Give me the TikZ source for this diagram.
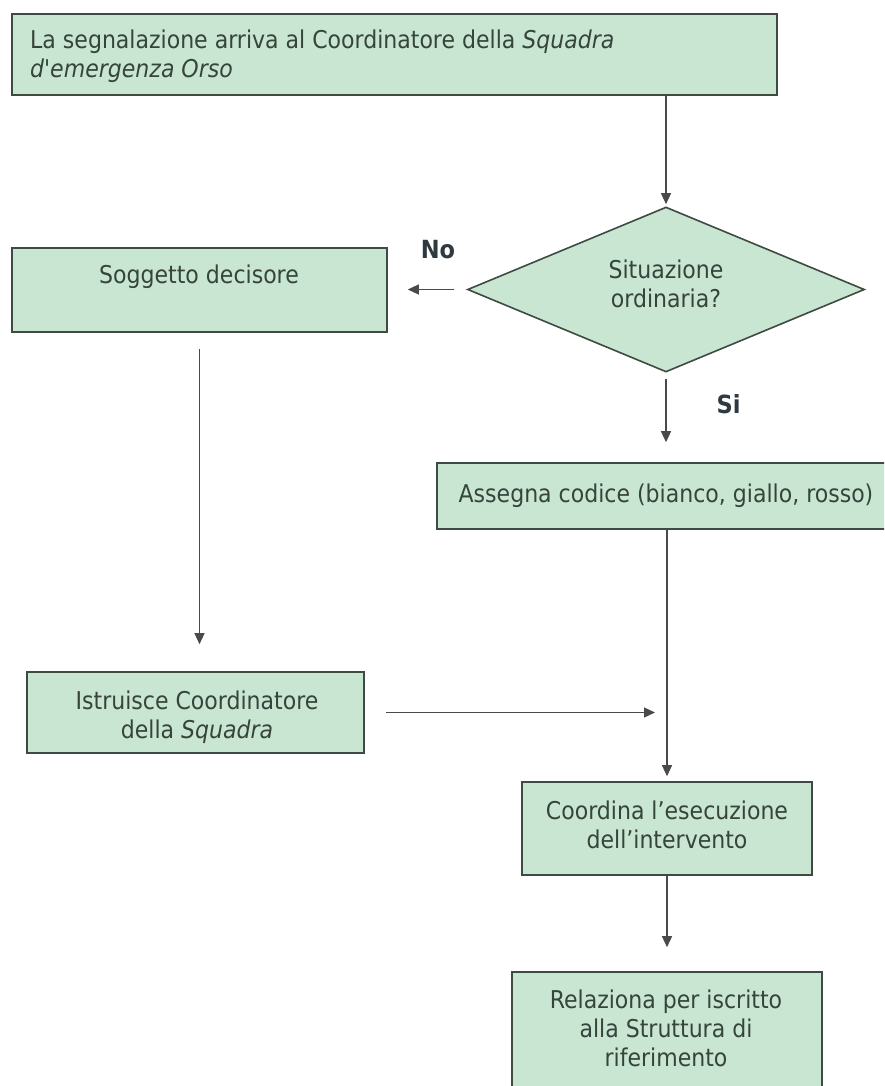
\documentclass[tikz,border=0pt]{standalone}
\usepackage{fontspec}
\setmainfont{DejaVu Sans Condensed}[Ligatures=TeXOff]
\usetikzlibrary{shapes.geometric,arrows.meta}
\definecolor{boxfill}{HTML}{C8E6D2}
\definecolor{boxline}{HTML}{3E4A42}
\definecolor{txtcol}{HTML}{36443B}
\definecolor{arrcol}{HTML}{4A4A4A}
\definecolor{labcol}{HTML}{2E3A40}
\begin{document}
\begin{tikzpicture}[x=1pt,y=-1pt,
  box/.style={draw=boxline, fill=boxfill, line width=1.6pt, inner sep=0pt, rectangle},
  txt/.style={text=txtcol, inner sep=0pt, font=\fontsize{24.5}{29}\selectfont},
  lab/.style={text=labcol, inner sep=0pt, font=\fontsize{25}{29}\selectfont\bfseries},
  arr/.style={draw=arrcol, line width=1.3pt, -{Triangle[length=11pt,width=10pt]}}]
\clip (0,0) rectangle (884,1086);
\fill[white] (0,0) rectangle (884,1086);
% boxes
\node[box, minimum width=765pt, minimum height=81pt] (top) at (394.5,54.5) {};
\node[diamond, draw=boxline, fill=boxfill, line width=1.6pt, inner sep=0pt,
      minimum width=397pt, minimum height=165pt] (dia) at (666,289.5) {};
\node[box, minimum width=375pt, minimum height=84pt] (sog) at (199.5,290) {};
\node[box, minimum width=453pt, minimum height=66pt] (ass) at (663.5,496) {};
\node[box, minimum width=337pt, minimum height=81pt] (ist) at (195.5,712.5) {};
\node[box, minimum width=290pt, minimum height=93pt] (coo) at (667,828.5) {};
\node[box, minimum width=310pt, minimum height=123pt] (rel) at (667,1033.5) {};
% texts
\node[txt, anchor=west, align=left] (toptxt) at (30,56)
  {La segnalazione arriva al Coordinatore della \textit{Squadra}\\\textit{d'emergenza Orso}};
\node[txt, align=center] (diatxt) at (666,284) {Situazione\\ordinaria?};
\node[txt] (sogtxt) at (199,277) {Soggetto decisore};
\node[txt] (asstxt) at (666,496) {Assegna codice (bianco, giallo, rosso)};
\node[txt, align=center] (isttxt) at (197,717) {Istruisce Coordinatore\\della \textit{Squadra}};
\node[txt, align=center] (cootxt) at (667,825) {Coordina l’esecuzione\\dell’intervento};
\node[txt, align=center] (reltxt) at (666,1028) {Relaziona per iscritto\\alla Struttura di\\riferimento};
\node[lab] (no) at (438,250) {No};
\node[lab] (si) at (728.5,404) {Si};
% connectors
\draw[arr] (top.south -| dia.north) -- ([yshift=2pt]dia.north);
\draw[arr] ([xshift=-13pt]dia.west) -- ([xshift=20pt]sog.east |- dia.west);
\draw[arr] ([yshift=-6pt]dia.south) -- ([yshift=20pt]dia.south |- ass.north);
\draw[arr] ([yshift=-16pt]sog.south) -- ([yshift=27pt]sog.south |- ist.north);
\draw[arr] ([xshift=21pt]ist.east) -- ([xshift=-12pt]ist.east -| coo.north);
\draw[arr] (ass.south -| coo.north) -- ([yshift=5pt]coo.north);
\draw[arr] (coo.south) -- ([yshift=24pt]rel.north);
\end{tikzpicture}
\end{document}
